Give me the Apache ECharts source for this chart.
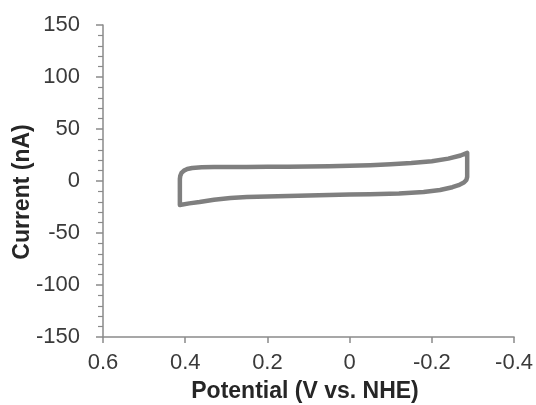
<!DOCTYPE html>
<html>
<head>
<meta charset="utf-8">
<script src="https://cdn.jsdelivr.net/npm/echarts@6/dist/echarts.min.js"></script>
<style>
html,body{margin:0;padding:0;background:#fff;}
#chart{width:536px;height:405px;}
</style>
</head>
<body>
<div id="chart"></div>
<script>
// Potential (V vs. NHE) along the cyclic voltammogram loop
var potential = [0.413, 0.413, 0.412, 0.409, 0.403, 0.395, 0.383, 0.36, 0.33, 0.30, 0.25, 0.20, 0.15, 0.10, 0.05, 0.0, -0.05, -0.10, -0.15, -0.20, -0.24, -0.27, -0.286,
                 -0.286, -0.284, -0.278, -0.265, -0.25, -0.22, -0.18, -0.12, -0.05, 0.0, 0.05, 0.10, 0.15, 0.20, 0.25, 0.29, 0.33, 0.365, 0.39, 0.413];
// Current (nA) at each point
var current = [-23, 2, 5, 7.8, 10, 11.5, 12.5, 13.2, 13.5, 13.5, 13.5, 13.6, 13.8, 14, 14.3, 14.6, 15.2, 16, 17.2, 19, 21.5, 24.5, 27,
               4, 1, -1.5, -4, -6, -8.6, -10.5, -12, -12.7, -13, -13.5, -14, -14.5, -15, -15.4, -16.3, -18, -20.2, -21.5, -23];
var xTicks = ['0.6', '0.4', '0.2', '0', '-0.2', '-0.4'];
var yTicks = ['150', '100', '50', '0', '-50', '-100', '-150'];
var xTitle = 'Potential (V vs. NHE)';
var yTitle = 'Current (nA)';

var loop = potential.map(function (v, i) { return [v, current[i]]; });

function fmt(v) {
  var r = Math.round(v * 10) / 10;
  return r === 0 ? '0' : String(r);
}

var chart = echarts.init(document.getElementById('chart'), null, {renderer: 'canvas'});
var axisColor = '#8a8a8a';
var labelColor = '#3a3a3a';
chart.setOption({
  animation: false,
  backgroundColor: '#ffffff',
  grid: {left: 103, right: 21, top: 25, bottom: 68},
  xAxis: {
    type: 'value',
    inverse: true,
    min: -0.4, max: 0.6, interval: 0.2,
    axisLine: {show: true, onZero: false, lineStyle: {color: axisColor, width: 1.5}},
    axisTick: {show: true, length: 6, lineStyle: {color: axisColor, width: 1.5}},
    splitLine: {show: false},
    axisLabel: {
      margin: 15, fontSize: 22, color: labelColor, fontFamily: 'Liberation Sans',
      formatter: function (v) { var s = fmt(v); return xTicks.indexOf(s) >= 0 ? s : ''; }
    }
  },
  yAxis: {
    type: 'value',
    min: -150, max: 150, interval: 50,
    axisLine: {show: true, onZero: false, lineStyle: {color: axisColor, width: 1.5}},
    axisTick: {show: true, length: 7, lineStyle: {color: axisColor, width: 1.5}},
    minorTick: {show: true, splitNumber: 5, length: 5, lineStyle: {color: axisColor, width: 1.2}},
    splitLine: {show: false},
    axisLabel: {
      margin: 23, fontSize: 22, color: labelColor, fontFamily: 'Liberation Sans',
      formatter: function (v) { var s = String(Math.round(v)); return yTicks.indexOf(s) >= 0 ? s : ''; }
    }
  },
  graphic: [
    {type: 'text', x: 305, y: 392,
     style: {text: xTitle, font: 'bold 23px "Liberation Sans"', fill: '#262626', align: 'center', verticalAlign: 'middle'}},
    {type: 'text', x: 23, y: 192, rotation: Math.PI / 2,
     style: {text: yTitle, font: 'bold 23px "Liberation Sans"', fill: '#262626', align: 'center', verticalAlign: 'middle'}}
  ],
  series: [{
    type: 'line',
    data: loop,
    showSymbol: false,
    smooth: false,
    lineStyle: {color: '#7f7f7f', width: 4.5, join: 'round', cap: 'round'},
    silent: true
  }]
});
</script>
</body>
</html>
